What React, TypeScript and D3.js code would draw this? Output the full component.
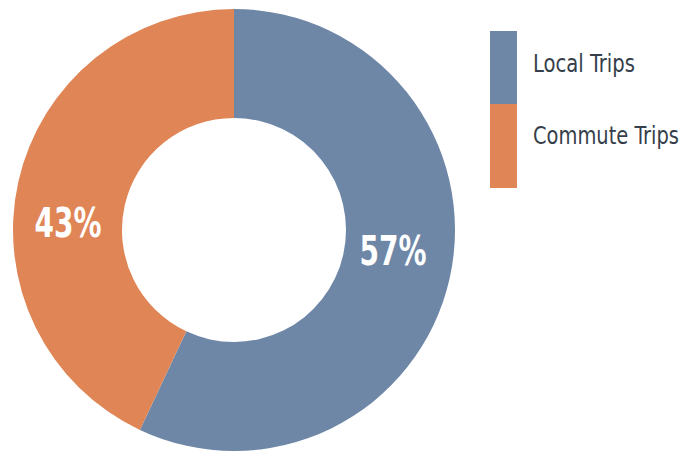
import React, { useLayoutEffect, useRef, useState } from 'react';
import { arc, pie, PieArcDatum } from 'd3';

const categories = ['Local Trips', 'Commute Trips'];
const values = [57, 43];
const colors = ['#6e87a7', '#df8556'];
const labelNudge = [[-3, -16], [-4, 28]];

const width = 684;
const height = 452;
const cx = 234;
const cy = 230;
const outerR = 221;
const innerR = 112;

const font = "'Liberation Sans Narrow', 'DejaVu Sans Condensed', 'Roboto Condensed', sans-serif";

type Row = { name: string; value: number; color: string };

// text that is squeezed to a target width with a horizontal scale
function FitText(props: {
  x: number; y: number; w: number; anchor?: 'start' | 'middle';
  size: number; bold?: boolean; fill: string; children: React.ReactNode;
}) {
  const ref = useRef<SVGTextElement>(null);
  const [k, setK] = useState(1);
  useLayoutEffect(() => {
    if (ref.current) {
      const len = ref.current.getComputedTextLength();
      if (len > 0) setK(props.w / len);
    }
  }, [props.w]);
  return (
    <g transform={`translate(${props.x}, ${props.y}) scale(${k}, 1)`}>
      <text
        ref={ref}
        textAnchor={props.anchor || 'start'}
        dy={props.anchor === 'middle' ? '0.36em' : 0}
        fill={props.fill}
        fontFamily={font}
        fontWeight={props.bold ? 'bold' : 'normal'}
        fontSize={props.size}
      >
        {props.children}
      </text>
    </g>
  );
}

function App() {
  const data: Row[] = categories.map((name, i) => ({ name, value: values[i], color: colors[i] }));

  const arcs = pie<Row>()
    .value(d => d.value)
    .sort(null)(data);

  const arcGen = arc<PieArcDatum<Row>>()
    .innerRadius(innerR)
    .outerRadius(outerR);

  const labelArc = arc<PieArcDatum<Row>>()
    .innerRadius(166)
    .outerRadius(166);

  return (
    <svg
      width={width}
      height={height}
      style={{ position: 'absolute', left: 0, top: 0, background: '#fff' }}
    >
      <g transform={`translate(${cx}, ${cy})`}>
        {arcs.map(a => (
          <path key={a.data.name} d={arcGen(a)!} fill={a.data.color} />
        ))}
        {arcs.map((a, i) => {
          const [x, y] = labelArc.centroid(a);
          return (
            <FitText
              key={a.data.name}
              x={x + labelNudge[i][0]}
              y={y + labelNudge[i][1]}
              w={67}
              anchor="middle"
              size={41}
              bold
              fill="#fff"
            >
              {a.data.value}%
            </FitText>
          );
        })}
      </g>
      <g transform="translate(490, 31)">
        {data.map((d, i) => (
          <g key={d.name} transform={`translate(0, ${i * 73})`}>
            <rect x={0} y={0} width={27} height={i === 0 ? 73 : 84} fill={d.color} />
            <FitText x={43} y={i === 0 ? 41 : 40} w={i === 0 ? 102 : 146} size={25} fill="#363e4a">
              {d.name}
            </FitText>
          </g>
        ))}
      </g>
    </svg>
  );
}

export default App;
